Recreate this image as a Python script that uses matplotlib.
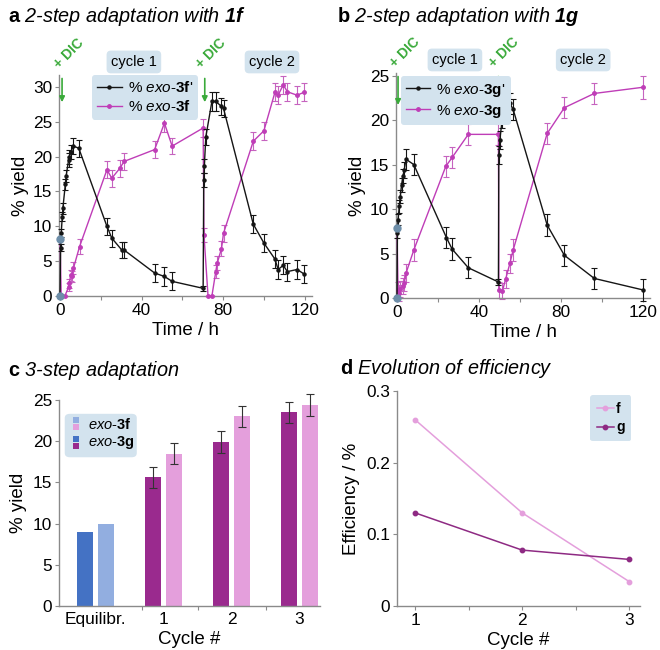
import matplotlib
matplotlib.use("Agg")
import matplotlib.pyplot as plt
from matplotlib.patches import FancyBboxPatch, Rectangle

plt.rcParams['font.family'] = ['Liberation Sans', 'DejaVu Sans']
plt.rcParams['mathtext.fontset'] = 'custom'
plt.rcParams['mathtext.rm'] = 'Liberation Sans'
plt.rcParams['mathtext.it'] = 'Liberation Sans:italic'
plt.rcParams['mathtext.bf'] = 'Liberation Sans:bold'
plt.rcParams['mathtext.bfit'] = 'Liberation Sans:italic:bold'

# ---- panel a: 2-step adaptation with 1f ----
t_a_3fp = [0, 0.3, 0.6, 1.1, 1.4, 2.6, 3.0, 4.2, 4.6, 5.3, 6.6, 9.2, 23, 25.4, 30.3, 31.4,
           46.4, 51.2, 55, 70.2, 70.5, 70.8, 71.5, 74.5, 76.4, 79.2, 80.2, 94.8, 100,
           105.4, 107, 109.5, 111.5, 116.3, 119.5]
y_a_3fp = [0, 6.9, 9.0, 11.4, 12.6, 16.0, 17.2, 19.5, 20.0, 20.7, 21.5, 21.2, 10.0, 8.3, 6.6, 6.6,
           3.3, 2.8, 2.1, 1.1, 16.7, 18.7, 22.8, 27.9, 27.9, 27.2, 26.9, 10.3, 7.6,
           5.3, 3.8, 4.4, 3.5, 3.8, 3.2]
e_a_3fp = [0, 0.5, 0.6, 0.7, 0.8, 0.8, 0.9, 1.0, 1.0, 1.0, 1.2, 1.2, 1.2, 1.2, 1.2, 1.2,
           1.3, 1.3, 1.3, 0.4, 1.0, 1.0, 1.1, 1.3, 1.3, 1.2, 1.2, 1.3, 1.3,
           1.3, 1.3, 1.3, 1.3, 1.3, 1.3]
t_a_3f = [0, 0.6, 2.4, 4.2, 4.6, 5.2, 5.8, 6.6, 9.6, 23, 25.4, 29.3, 31.4, 46.4, 51.2, 55,
          70.2, 70.6, 72.6, 74.5, 76.4, 77.2, 79.2, 80.2, 94.8, 100, 105.4, 107, 109.5,
          111.5, 116.3, 119.5]
y_a_3f = [8.2, 0, 0, 1.3, 1.8, 3.0, 2.8, 4.0, 7.1, 18.1, 16.9, 18.3, 19.3, 21.0, 24.8, 21.5,
          24.1, 8.8, 0, 0, 3.5, 4.8, 6.8, 9.0, 22.2, 23.7, 29.2, 28.8, 30.3,
          29.3, 28.8, 29.2]
e_a_3f = [0, 0, 0, 0.6, 0.7, 0.8, 0.8, 0.9, 1.1, 1.2, 1.2, 1.2, 1.2, 1.2, 1.3, 1.2,
          1.3, 1.0, 0, 0, 0.9, 1.0, 1.1, 1.2, 1.3, 1.3, 1.3, 1.3, 1.3,
          1.3, 1.3, 1.3]
eq_a = [0, 8.2]

# ---- panel b: 2-step adaptation with 1g ----
t_b_3gp = [0, 0.2, 0.5, 1.1, 1.6, 2.2, 2.9, 3.5, 4.4, 8.2, 24.1, 26.9, 34.8, 49.5, 49.7,
           50.2, 51.4, 53.0, 55.1, 56.7, 73.3, 81.7, 96.3, 120.2]
y_b_3gp = [0, 7.3, 8.8, 10.3, 11.4, 12.7, 13.7, 14.4, 15.6, 15.0, 6.8, 5.5, 3.4, 1.8, 16.1,
           17.8, 20.2, 21.9, 21.9, 21.2, 8.2, 4.8, 2.2, 0.9]
e_b_3gp = [0, 0.6, 0.6, 0.7, 0.7, 0.8, 0.8, 0.9, 1.2, 1.2, 1.2, 1.2, 1.2, 0.3, 1.0,
           1.0, 1.1, 1.2, 1.2, 1.2, 1.2, 1.2, 1.2, 1.2]
t_b_3g = [0, 0.5, 1.1, 1.6, 2.9, 3.5, 4.4, 8.2, 23.8, 26.9, 34.8, 49.5, 49.7, 51.4, 53.0,
          55.1, 56.7, 73.3, 81.7, 96.3, 120.2]
y_b_3g = [8.0, 0.9, 0.6, 1.0, 1.3, 1.65, 2.8, 5.4, 14.8, 15.8, 18.4, 18.4, 0.9, 0.75, 2.1,
          3.9, 5.4, 18.5, 21.4, 23.0, 23.7]
e_b_3g = [0, 0.9, 0.9, 0.9, 0.9, 0.9, 1.0, 1.2, 1.2, 1.2, 1.2, 1.2, 0.9, 0.9, 1.0,
          1.1, 1.2, 1.2, 1.2, 1.2, 1.3]
eq_b = [0, 7.9]

# ---- panel c: 3-step adaptation ----
cycles_c = ['Equilibr.', '1', '2', '3']
yield_3g = [9.0, 15.6, 19.9, 23.5]
err_3g = [0, 1.3, 1.3, 1.3]
yield_3f = [10.0, 18.5, 23.0, 24.4]
err_3f = [0, 1.3, 1.3, 1.3]

# ---- panel d: efficiency ----
cycles_d = [1, 2, 3]
eff_f = [0.26, 0.13, 0.034]
eff_g = [0.13, 0.078, 0.065]

BLACK = '#151515'
MAG = '#bf3db7'
MAG_E = '#c663bf'
BOX = '#d3e3ee'
GREEN = '#3aaa3a'
DOT = '#6d8ea9'
GREY = '#8a8a8a'
DARKBLUE, LIGHTBLUE = '#4472c4', '#92aee0'
DARKMAG, LIGHTMAG = '#9a2a8e', '#e49fdc'
FS = 13.5     # axis labels
TFS = 12.4    # tick labels
HFS = 14.3    # panel titles

fig = plt.figure(figsize=(6.6, 6.5), dpi=100)
W, H = 660, 650


def px_axes(l, r, b, t):
    return fig.add_axes([l / W, 1 - b / H, (r - l) / W, (b - t) / H])


def style(ax):
    for s in ['top', 'right']:
        ax.spines[s].set_visible(False)
    for s in ['left', 'bottom']:
        ax.spines[s].set_color(GREY)
        ax.spines[s].set_linewidth(1)
    ax.tick_params(which='both', direction='out', length=3, width=0.8, color=GREY,
                   labelsize=TFS, pad=2)


ax_a = px_axes(59, 312, 296, 75)
ax_b = px_axes(396, 650, 298, 73)
ax_c = px_axes(59, 320, 606, 400)
ax_d = px_axes(397, 640, 606, 391)


def time_panel(ax, t1, y1, e1, t2, y2, e2, eq, lab1, lab2):
    ax.errorbar(t2, y2, yerr=e2, fmt='none', ecolor=MAG_E, elinewidth=0.8, capsize=2.5,
                capthick=0.8, clip_on=False, zorder=2)
    l2, = ax.plot(t2, y2, color=MAG, lw=1, marker='o', ms=2.5, label=lab2, clip_on=False, zorder=3)
    ax.errorbar(t1, y1, yerr=e1, fmt='none', ecolor=BLACK, elinewidth=0.8, capsize=2.5,
                capthick=0.8, clip_on=False, zorder=4)
    l1, = ax.plot(t1, y1, color=BLACK, lw=1, marker='o', ms=2.2, label=lab1, clip_on=False, zorder=5)
    ax.plot([0, 0], eq, ls='none', marker='o', ms=5, color=DOT, clip_on=False, zorder=6)
    style(ax)
    ax.set_xticks([0, 40, 80, 120])
    ax.set_xticks([20, 60, 100], minor=True)
    ax.set_xlabel('Time / h', fontsize=FS, labelpad=3)
    ax.set_ylabel('% yield', fontsize=FS, labelpad=3)
    ax.legend(handles=[l1, l2], loc='upper left', fontsize=11, frameon=True, facecolor=BOX,
              edgecolor='none', framealpha=1, fancybox=True, handlelength=1.6,
              handletextpad=0.4, labelspacing=0.25, borderpad=0.35, borderaxespad=0)


def dic(ax, x_arrow, y0, y1, x_txt, y_txt):
    ax.annotate('', xy=(x_arrow, y1), xytext=(x_arrow, y0), annotation_clip=False,
                arrowprops=dict(arrowstyle='-|>', color=GREEN, lw=1.2, mutation_scale=8,
                                shrinkA=0, shrinkB=0))
    ax.text(x_txt, y_txt, '+ DIC', color=GREEN, fontsize=10, fontweight='bold', rotation=45,
            rotation_mode='anchor', ha='left', va='bottom', clip_on=False)


def cycle_box(ax, x, y, s):
    ax.text(x, y, s, transform=ax.transAxes, ha='center', va='center', fontsize=10.5,
            bbox=dict(boxstyle='round,pad=0.3', fc=BOX, ec='none'), clip_on=False)


# panel a
time_panel(ax_a, t_a_3fp, y_a_3fp, e_a_3fp, t_a_3f, y_a_3f, e_a_3f, eq_a,
           r"% $\mathit{exo}$-$\mathbf{3f}$'", r"% $\mathit{exo}$-$\mathbf{3f}$")
ax_a.set_xlim(-0.5, 123.6)
ax_a.set_ylim(0, 31.7)
ax_a.set_yticks([0, 5, 10, 15, 20, 25, 30])
ax_a.get_legend().set_bbox_to_anchor((0.13, 1.0))
dic(ax_a, 1, 31.2, 27.8, 0.3, 32.3)
dic(ax_a, 71, 31.2, 27.8, 70.2, 32.3)
cycle_box(ax_a, 0.296, 1.059, 'cycle 1')
cycle_box(ax_a, 0.842, 1.059, 'cycle 2')

# panel b
time_panel(ax_b, t_b_3gp, y_b_3gp, e_b_3gp, t_b_3g, y_b_3g, e_b_3g, eq_b,
           r"% $\mathit{exo}$-$\mathbf{3g}$'", r"% $\mathit{exo}$-$\mathbf{3g}$")
ax_b.set_xlim(-0.5, 123.5)
ax_b.set_ylim(0, 25.3)
ax_b.set_yticks([0, 5, 10, 15, 20, 25])
ax_b.get_legend().set_bbox_to_anchor((0.018, 0.985))
dic(ax_b, 0.5, 24.9, 21.7, 0.0, 25.6)
dic(ax_b, 49.5, 24.9, 21.7, 48.5, 25.6)
cycle_box(ax_b, 0.232, 1.058, 'cycle 1')
cycle_box(ax_b, 0.737, 1.058, 'cycle 2')

# panel c
xs = list(range(len(cycles_c)))
bw, off = 0.235, 0.155
dark = [DARKBLUE] + [DARKMAG] * 3
light = [LIGHTBLUE] + [LIGHTMAG] * 3
ax_c.bar([x - off for x in xs], yield_3g, width=bw, color=dark)
ax_c.bar([x + off for x in xs], yield_3f, width=bw, color=light)
for i in xs:
    if err_3g[i] > 0:
        ax_c.errorbar(i - off, yield_3g[i], yerr=err_3g[i], fmt='none', ecolor='#333333',
                      elinewidth=0.8, capsize=3, capthick=0.8, clip_on=False)
    if err_3f[i] > 0:
        ax_c.errorbar(i + off, yield_3f[i], yerr=err_3f[i], fmt='none', ecolor='#333333',
                      elinewidth=0.8, capsize=3, capthick=0.8, clip_on=False)
style(ax_c)
ax_c.set_xlim(-0.537, 3.3)
ax_c.set_ylim(0, 25)
ax_c.set_xticks(xs)
ax_c.set_xticklabels(cycles_c)
ax_c.tick_params(axis='x', which='major', length=0, pad=4)
ax_c.set_xticks([0.68, 1.5, 2.5], minor=True)
ax_c.set_xlabel('Cycle #', fontsize=FS, labelpad=3)
ax_c.set_ylabel('% yield', fontsize=FS, labelpad=4)

# legend box for panel c
ax_c.add_patch(FancyBboxPatch((0.03, 0.73), 0.26, 0.195, boxstyle='round,pad=0.008,rounding_size=0.02',
                              transform=ax_c.transAxes, fc=BOX, ec='none', clip_on=False))
sq_w, sq_h = 0.022, 0.028
for yy, col in [(0.888, LIGHTBLUE), (0.855, LIGHTMAG), (0.797, DARKBLUE), (0.764, DARKMAG)]:
    ax_c.add_patch(Rectangle((0.053, yy), sq_w, sq_h, transform=ax_c.transAxes, fc=col,
                             ec='none', clip_on=False))
ax_c.text(0.11, 0.883, r"$\mathit{exo}$-$\mathbf{3f}$", transform=ax_c.transAxes, fontsize=10.5,
          va='center', ha='left')
ax_c.text(0.11, 0.792, r"$\mathit{exo}$-$\mathbf{3g}$", transform=ax_c.transAxes, fontsize=10.5,
          va='center', ha='left')

# panel d
ax_d.plot(cycles_d, eff_f, color=LIGHTMAG, lw=1.1, marker='o', ms=3.2, label='f', clip_on=False)
ax_d.plot(cycles_d, eff_g, color='#8e2a83', lw=1.1, marker='o', ms=3.2, label='g', clip_on=False)
style(ax_d)
ax_d.set_xlim(0.832, 3.1)
ax_d.set_ylim(0, 0.3)
ax_d.set_xticks([1, 2, 3])
ax_d.set_xticks([1.5, 2.5], minor=True)
ax_d.set_yticks([0, 0.1, 0.2, 0.3])
ax_d.set_yticklabels(['0', '0.1', '0.2', '0.3'])
ax_d.set_xlabel('Cycle #', fontsize=FS, labelpad=3)
ax_d.set_ylabel('Efficiency / %', fontsize=FS, labelpad=4)
leg = ax_d.legend(loc='upper left', bbox_to_anchor=(0.795, 0.98), fontsize=10, frameon=True,
                  facecolor=BOX, edgecolor='none', framealpha=1, fancybox=True,
                  handlelength=1.2, handletextpad=0.15, labelspacing=0.3, borderpad=0.5,
                  borderaxespad=0)
for txt in leg.get_texts():
    txt.set_fontweight('bold')

# titles
fig.text(8 / W, 1 - 17 / H, r'$\mathbf{a}$ 2-step adaptation with $\mathbfit{1f}$', style='italic',
         fontsize=HFS, va='center')
fig.text(337 / W, 1 - 17 / H, r'$\mathbf{b}$ 2-step adaptation with $\mathbfit{1g}$', style='italic',
         fontsize=HFS, va='center')
fig.text(8 / W, 1 - 370 / H, r'$\mathbf{c}$ 3-step adaptation', style='italic',
         fontsize=HFS, va='center')
fig.text(340 / W, 1 - 368 / H, r'$\mathbf{d}$ Evolution of efficiency', style='italic',
         fontsize=HFS, va='center')

fig.savefig('out.png', dpi=100)
